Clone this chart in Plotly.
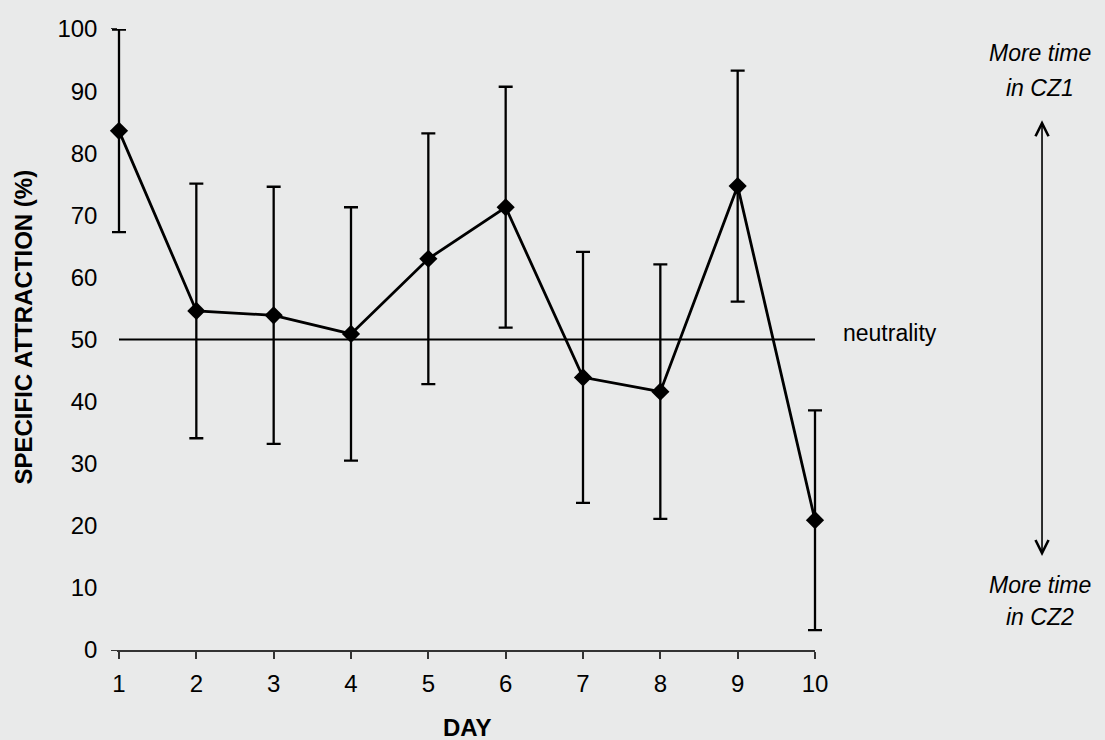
import plotly.graph_objects as go

days = [1, 2, 3, 4, 5, 6, 7, 8, 9, 10]
attraction = [83.6, 54.6, 53.9, 50.9, 63.0, 71.3, 43.9, 41.6, 74.7, 20.9]
err = [16.3, 20.5, 20.7, 20.4, 20.2, 19.4, 20.2, 20.5, 18.6, 17.7]
neutrality = 50
y_ticks = [0, 10, 20, 30, 40, 50, 60, 70, 80, 90, 100]

FONT = "Liberation Sans, Arial, sans-serif"
BG = "#e9eaea"

# plot area (paper) in pixels: left 109, right 825 -> width 716
PW = 716.0
PAD = 10.0  # pixels between paper edge and day 1 / day 10
unit = (PW - 2 * PAD) / (days[-1] - days[0])
x2_range = [days[0] - PAD / unit, days[-1] + PAD / unit]

fig = go.Figure()
fig.add_trace(go.Scatter(
    x=days, y=attraction, mode="lines+markers",
    xaxis="x2", yaxis="y",
    line=dict(color="black", width=2.8),
    marker=dict(symbol="diamond", size=14, color="black"),
    error_y=dict(type="data", array=err, visible=True, color="black",
                 thickness=2.3, width=7),
    cliponaxis=False, showlegend=False,
))

fig.add_shape(type="line", x0=days[0], x1=days[-1], y0=neutrality, y1=neutrality,
              xref="x", yref="y", line=dict(color="black", width=2.2))

ann = []
ann.append(dict(text="neutrality", xref="paper", x=1.0223, xanchor="left",
                yref="y", y=51.0, yanchor="middle", showarrow=False,
                font=dict(size=23, color="black", family=FONT)))
for txt, yy in [("More time", 96.1), ("in CZ1", 90.5), ("More time", 10.4), ("in CZ2", 5.3)]:
    ann.append(dict(text="<i>" + txt + "</i>", xref="paper", x=1.3003, xanchor="center",
                    yref="y", y=yy, yanchor="middle", showarrow=False,
                    font=dict(size=23, color="black", family=FONT)))
ann.append(dict(text="", xref="paper", x=1.3031, yref="y", y=85.3,
                axref="pixel", ax=0, ayref="y", ay=14.9,
                showarrow=True, arrowhead=5, startarrowhead=5, arrowside="end+start",
                arrowsize=1.6, startarrowsize=1.6, arrowwidth=1.6, arrowcolor="black"))
ann.append(dict(text="<b>SPECIFIC ATTRACTION (%)</b>", xref="paper", x=-0.1187,
                xanchor="center", yref="paper", y=0.5193, yanchor="middle",
                textangle=-90, showarrow=False,
                font=dict(size=24, color="black", family=FONT)))
ann.append(dict(text="<b>DAY</b>", xref="paper", x=0.5, xanchor="center",
                yref="paper", y=-0.1256, yanchor="middle", showarrow=False,
                font=dict(size=24, color="black", family=FONT)))

fig.update_layout(
    width=1105, height=740,
    margin=dict(l=109, r=280, t=29, b=90),
    paper_bgcolor=BG, plot_bgcolor=BG,
    font=dict(family=FONT, size=24, color="black"),
    annotations=ann,
    xaxis=dict(domain=[PAD / PW, 1 - PAD / PW], range=[days[0], days[-1]],
               tickvals=days, ticks="outside", ticklen=7,
               tickwidth=1.5, tickcolor="#333", showline=True, linecolor="#333",
               linewidth=1.5, showgrid=False, zeroline=False, anchor="y",
               ticklabelstandoff=4,
               tickfont=dict(size=24, family=FONT)),
    xaxis2=dict(domain=[0, 1], range=x2_range, visible=False, anchor="y",
                showgrid=False, zeroline=False),
    yaxis=dict(range=[0, 100], tickvals=y_ticks, ticks="outside", ticklen=6,
               tickwidth=1.5, tickcolor="#333", showline=True, linecolor="#333",
               linewidth=1.5, showgrid=False, zeroline=False, anchor="x",
               ticklabelstandoff=9,
               tickfont=dict(size=24, family=FONT)),
)

fig.write_html("out.html", config={"displayModeBar": False}, post_script=(
    "document.body.style.margin='0';"
    "document.body.style.background='" + BG + "';"
))
